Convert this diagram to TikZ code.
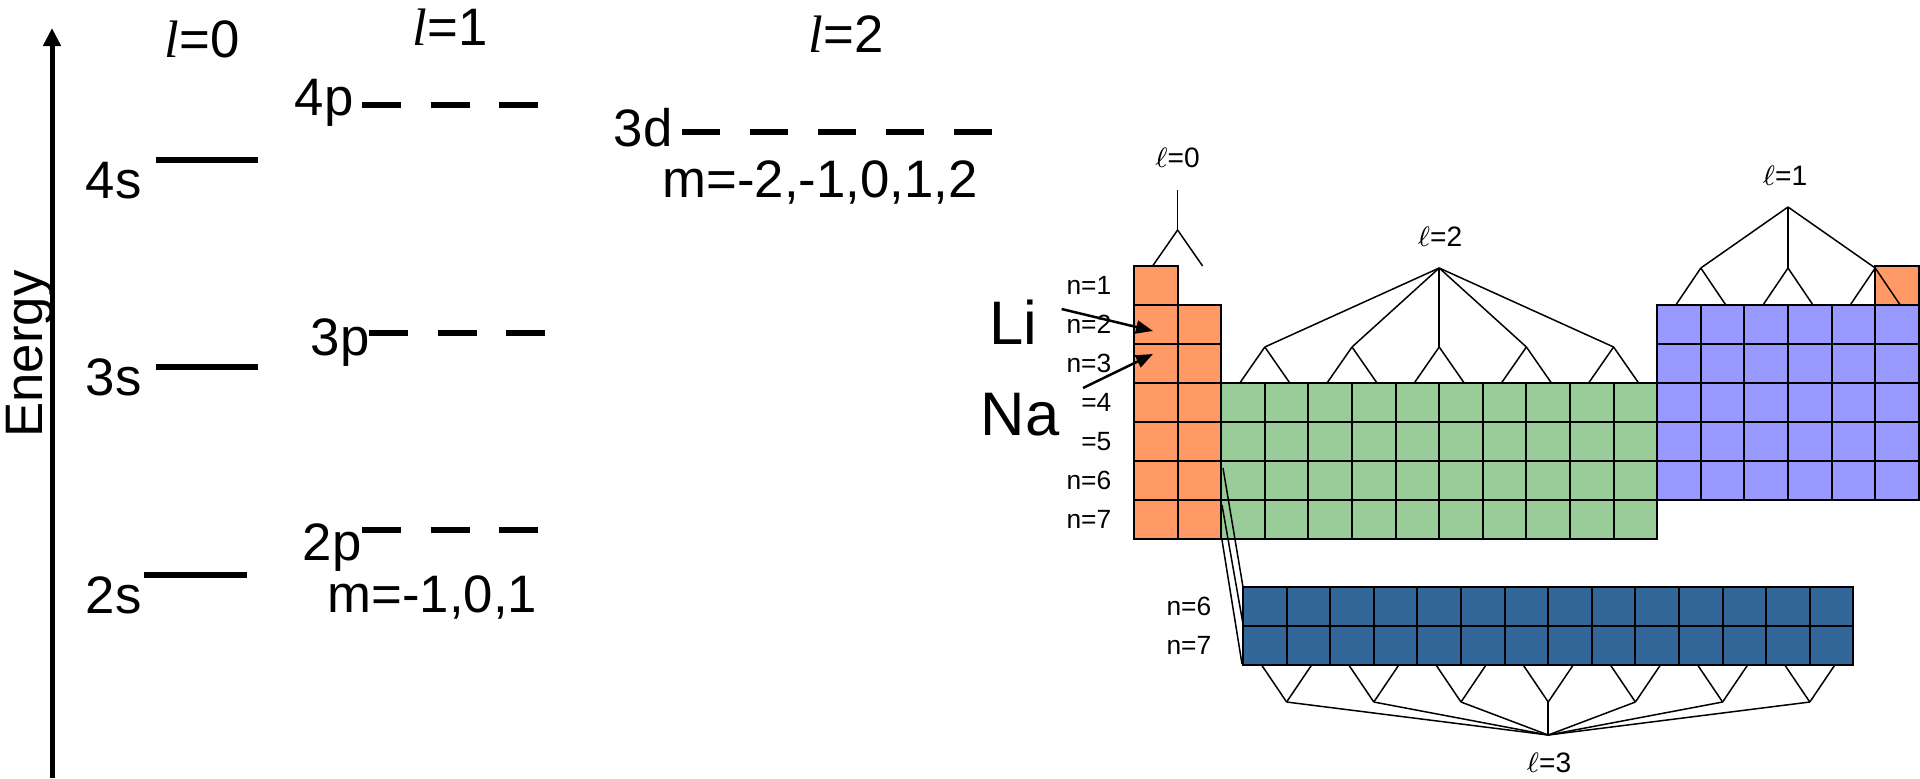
\documentclass[tikz,border=0pt]{standalone}
\usepackage{fontspec}
\setmainfont{Liberation Sans}
\newfontfamily\tms{Liberation Serif}
\usetikzlibrary{arrows.meta}

\definecolor{sblock}{HTML}{FF9966}
\definecolor{dblock}{HTML}{99CC99}
\definecolor{pblock}{HTML}{9999FF}
\definecolor{fblock}{HTML}{336699}

\newcommand{\cellw}{43.6}
\newcommand{\cellh}{39}

\tikzset{
  lab/.style={font=\fontsize{15}{18}\selectfont, inner sep=0pt},
  big/.style={font=\fontsize{17.5}{21}\selectfont, inner sep=0pt},
  tiny/.style={font=\fontsize{7.5}{9}\selectfont, inner sep=0pt},
  lsmall/.style={font=\fontsize{8}{10}\selectfont, inner sep=0pt},
  level/.style={line width=0.55mm},
  cell/.style={draw, line width=0.2mm},
  tree/.style={line width=0.15mm},
  pointer/.style={line width=0.25mm, -{Triangle[length=1.7mm, width=1.3mm]}},
}

\begin{document}
\begin{tikzpicture}[x=0.1mm, y=-0.1mm]
\useasboundingbox (0,0) rectangle (1920,778);

% energy axis
\coordinate (axisbot) at (52,778);
\coordinate (axistop) at (52,28);
\draw[line width=0.5mm, -{Triangle[length=1.8mm, width=1.7mm]}] (axisbot) -- (axistop);
\node (energy) [lab, rotate=90, anchor=base] at (43,354) {Energy};

% quantum number l
\node (l0) [lab, anchor=base west] at (164,57) {{\tms\itshape l}=0};
\node (l1) [lab, anchor=base west] at (412,45) {{\tms\itshape l}=1};
\node (l2) [lab, anchor=base west] at (808,52) {{\tms\itshape l}=2};

% s levels
\node (s4) [lab, anchor=base west] at (85,198) {4s};
\node (s3) [lab, anchor=base west] at (85,395) {3s};
\node (s2) [lab, anchor=base west] at (85,613) {2s};
\draw[level] (156,160) -- (258,160);
\draw[level] (156,367) -- (258,367);
\draw[level] (144,575) -- (247,575);

% p levels
\node (p4) [lab, anchor=base west] at (294,115) {4p};
\node (p3) [lab, anchor=base west] at (310,355) {3p};
\node (p2) [lab, anchor=base west] at (302,560) {2p};
\foreach \i in {0,1,2} {
  \draw[level] (362+68.5*\i,105) -- ++(39,0);
  \draw[level] (369+68.5*\i,333) -- ++(39,0);
  \draw[level] (362+68.5*\i,530) -- ++(39,0);
}
\node (mp) [lab, anchor=base west] at (327,612) {m=-1,0,1};

% d level
\node (d3) [lab, anchor=base west] at (613,146) {3d};
\foreach \i in {0,...,4}
  \draw[level] (682+68*\i,132) -- ++(38,0);
\node (md) [lab, anchor=base west] at (662,197) {m=-2,-1,0,1,2};

% periodic table blocks
\foreach \r in {1,...,7}
  \filldraw[cell, fill=sblock] (1134,227+39*\r) rectangle ++(\cellw,\cellh);
\foreach \r in {2,...,7}
  \filldraw[cell, fill=sblock] (1177.6,227+39*\r) rectangle ++(\cellw,\cellh);
\foreach \c in {0,...,9}
  \foreach \r in {4,...,7}
    \filldraw[cell, fill=dblock] (1221.2+\cellw*\c,227+39*\r) rectangle ++(\cellw,\cellh);
\foreach \c in {0,...,5}
  \foreach \r in {2,...,6}
    \filldraw[cell, fill=pblock] (1657.2+\cellw*\c,227+39*\r) rectangle ++(\cellw,\cellh);
\filldraw[cell, fill=sblock] (1875.2,266) rectangle ++(\cellw,\cellh);
\foreach \c in {0,...,13}
  \foreach \r in {0,1}
    \filldraw[cell, fill=fblock] (1243+\cellw*\c,587+39*\r) rectangle ++(\cellw,\cellh);

% row labels
\foreach \r in {1,2,3,6,7}
  \node (n\r) [tiny, anchor=east] at (1112,246.5+39*\r) {n=\r};
\foreach \r in {4,5}
  \node (n\r) [tiny, anchor=east] at (1112,246.5+39*\r) {=\r};
\node (nf6) [tiny, anchor=east] at (1212,606.5) {n=6};
\node (nf7) [tiny, anchor=east] at (1212,645.5) {n=7};

% f block inserted
\draw[tree] (1223,468) -- (1243,587);
\draw[tree] (1222,505) -- (1243,624);
\draw[tree] (1222,540) -- (1242,664);

% l=0 tree
\node (ls) [lsmall] at (1177.6,158) {$\ell$=0};
\coordinate (s-top) at (1177.6,190);
\coordinate (s-fork) at (1177.6,230);
\draw[tree] (s-top) -- (s-fork);
\draw[tree] (s-fork) -- ++(-25,36);
\draw[tree] (s-fork) -- ++(25,36);

% l=2 tree
\node (ld) [lsmall] at (1440,237) {$\ell$=2};
\coordinate (d-apex) at (1439.2,268);
\foreach \k in {1,...,5} {
  \coordinate (d\k) at (1177.6+87.2*\k,347);
  \draw[tree] (d-apex) -- (d\k);
  \draw[tree] (d\k) -- ++(-25,36);
  \draw[tree] (d\k) -- ++(25,36);
}

% l=1 tree
\node (lp) [lsmall] at (1785,176) {$\ell$=1};
\coordinate (p-apex) at (1788,207);
\foreach \k in {1,2,3} {
  \coordinate (p\k) at (1613.6+87.2*\k,268);
  \draw[tree] (p-apex) -- (p\k);
  \draw[tree] (p\k) -- ++(-25,37);
  \draw[tree] (p\k) -- ++(25,37);
}

% l=3 tree
\node (lf) [lsmall] at (1549,763) {$\ell$=3};
\coordinate (f-apex) at (1548.2,735);
\foreach \k in {1,...,7} {
  \coordinate (f\k) at (1199.4+87.2*\k,702);
  \draw[tree] (f-apex) -- (f\k);
  \draw[tree] (f\k) -- ++(-25,-37);
  \draw[tree] (f\k) -- ++(25,-37);
}

% elements
\node (li) [big] at (1013,322) {Li};
\node (na) [big] at (1020,415) {Na};
\coordinate (li-cell) at (1153,331);
\coordinate (na-cell) at (1153,354);
\draw[pointer] ([xshift=2.4mm, yshift=1.3mm]li.east) -- (li-cell);
\draw[pointer] ([xshift=2.3mm, yshift=2.7mm]na.east) -- (na-cell);

\end{tikzpicture}
\end{document}
